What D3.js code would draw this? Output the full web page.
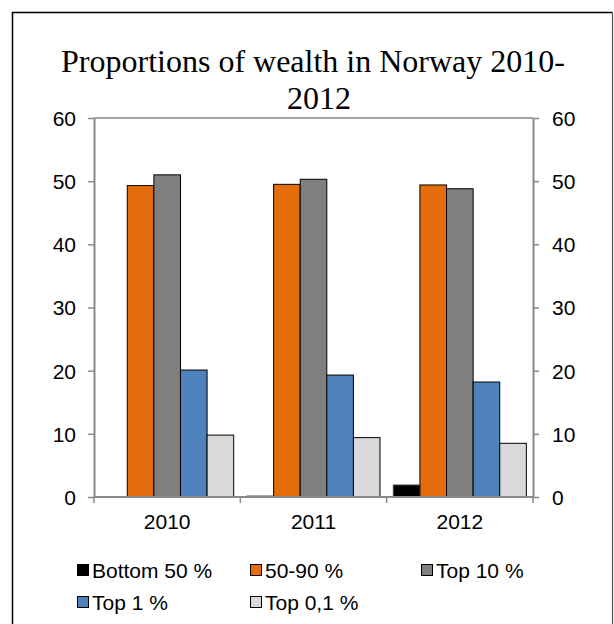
<!DOCTYPE html>
<html><head><meta charset="utf-8">
<script src="https://cdn.jsdelivr.net/npm/d3@7"></script>
<style>html,body{margin:0;padding:0;background:#fff;}</style>
</head><body><svg id="c" width="614" height="624"></svg>
<script>
const categories = ["2010", "2011", "2012"];
const seriesNames = ["Bottom 50 %", "50-90 %", "Top 10 %", "Top 1 %", "Top 0,1 %"];
const bottom50 = [0, 0.15, 1.9];
const mid5090 = [49.3, 49.5, 49.4];
const top10 = [51.0, 50.3, 48.8];
const top1 = [20.1, 19.3, 18.2];
const top01 = [9.8, 9.4, 8.5];
const yTicks = [0, 10, 20, 30, 40, 50, 60];
const colors = ["#000000", "#E46C0A", "#7F7F7F", "#4F81BD", "#D9D9D9"];
const seriesValues = [bottom50, mid5090, top10, top1, top01];

const svg = d3.select("#c");
const L = 94, R = 533, T = 118, B = 497;

// outer border
svg.append("path").attr("d", `M12.5,630 V12.5 H612.5`).attr("fill", "none")
  .attr("stroke", "#000").attr("stroke-width", 1.5);
svg.append("path").attr("d", `M612.5,12.5 V630`).attr("fill", "none")
  .attr("stroke", "#555").attr("stroke-width", 1.2);

// title
const title = svg.append("text").attr("text-anchor", "middle")
  .attr("font-family", "'Liberation Serif', 'Times New Roman', serif")
  .attr("font-size", 32).attr("fill", "#000");
title.append("tspan").attr("x", 313).attr("y", 72).text("Proportions of wealth in Norway 2010-");
title.append("tspan").attr("x", 319).attr("y", 109).text("2012");

const x0 = d3.scaleBand().domain(categories).range([L, R]).paddingInner(0).paddingOuter(0);
const x1 = d3.scaleBand().domain(d3.range(seriesNames.length)).range([0, x0.bandwidth()]).paddingOuter(0.25).paddingInner(0);
const y = d3.scaleLinear().domain([0, 60]).range([B, T]);

// top line at 60
svg.append("line").attr("x1", L).attr("x2", R).attr("y1", y(60)).attr("y2", y(60))
  .attr("stroke", "#898989").attr("stroke-width", 1.5);

// bars
seriesValues.forEach((vals, si) => {
  svg.append("g").selectAll("rect").data(vals).join("rect")
    .attr("x", (d, i) => x0(categories[i]) + x1(si))
    .attr("y", d => y(d))
    .attr("width", x1.bandwidth())
    .attr("height", d => y(0) - y(d))
    .attr("fill", colors[si])
    .attr("stroke", si === 0 ? "#444" : "#000").attr("stroke-width", 1);
});

const axisColor = "#898989";
const font = "'Liberation Sans', Arial, sans-serif";
function styleAxis(g) {
  g.selectAll(".domain").attr("stroke", axisColor).attr("stroke-width", 2);
  g.selectAll(".tick line").attr("stroke", axisColor).attr("stroke-width", 1.5);
  g.selectAll(".tick text").attr("font-family", font).attr("font-size", 21).attr("fill", "#000");
}
const yl = svg.append("g").attr("transform", `translate(${L},0)`)
  .call(d3.axisLeft(y).tickValues(yTicks).tickSize(6).tickPadding(12).tickSizeOuter(0));
styleAxis(yl); yl.selectAll(".tick text").attr("dy", "0.35em");
const yr = svg.append("g").attr("transform", `translate(${R},0)`)
  .call(d3.axisRight(y).tickValues(yTicks).tickSize(6).tickPadding(13).tickSizeOuter(0));
styleAxis(yr); yr.selectAll(".tick text").attr("dy", "0.35em");

// x axis
const xb = svg.append("g").attr("transform", `translate(0,${B})`);
xb.append("line").attr("x1", L).attr("x2", R).attr("stroke", axisColor).attr("stroke-width", 2);
const bounds = [...categories.map(c => x0(c)), R];
xb.selectAll("line.t").data(bounds).join("line").attr("class", "t")
  .attr("x1", d => d).attr("x2", d => d).attr("y1", 0).attr("y2", 6)
  .attr("stroke", axisColor).attr("stroke-width", 1.5);
xb.selectAll("text").data(categories).join("text")
  .attr("x", d => x0(d) + x0.bandwidth() / 2).attr("y", 32)
  .attr("text-anchor", "middle").attr("font-family", font).attr("font-size", 21).text(d => d);

// legend
const legendPos = [[77, 578], [250, 578], [421, 578], [77, 610], [250, 610]];
const lg = svg.append("g").selectAll("g").data(seriesNames).join("g")
  .attr("transform", (d, i) => `translate(${legendPos[i][0]},${legendPos[i][1]})`);
lg.append("rect").attr("x", 0.5).attr("y", -13.5).attr("width", 11).attr("height", 11)
  .attr("fill", (d, i) => colors[i]).attr("stroke", "#000").attr("stroke-width", 1);
lg.append("text").attr("x", 15).attr("y", 0).attr("font-family", font).attr("font-size", 21)
  .text(d => d);
</script></body></html>
